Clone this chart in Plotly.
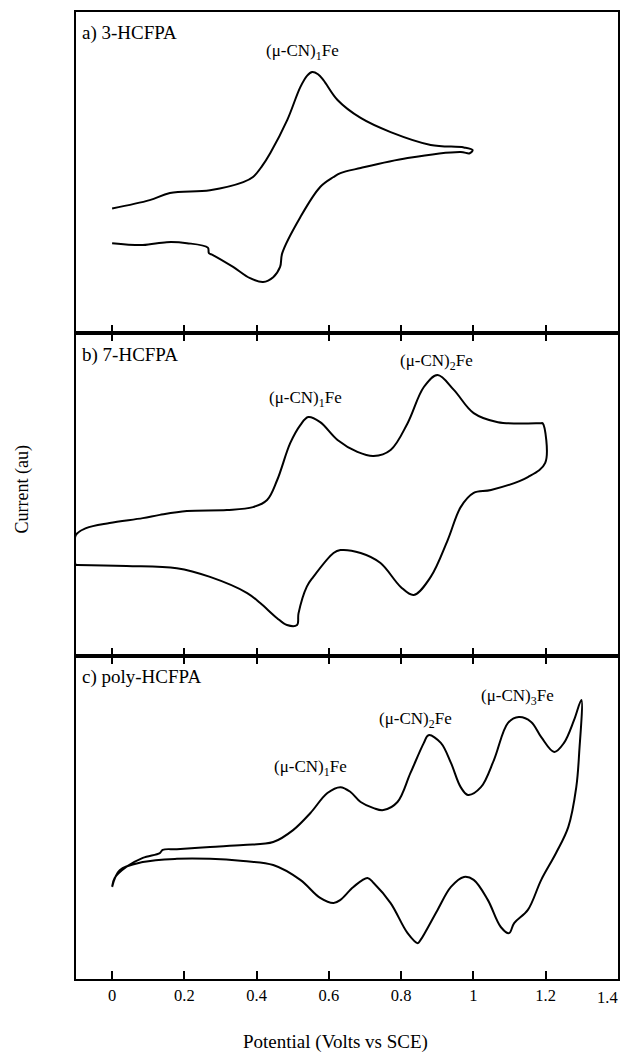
import plotly.graph_objects as go

# Potential (V vs SCE) and current (au) for each panel
a_v = [0.00, 0.104, 0.160, 0.271, 0.363, 0.390, 0.415, 0.438, 0.485, 0.521, 0.540, 0.554, 0.570, 0.585,
       0.624, 0.688, 0.771, 0.882, 0.974, 0.998, 0.990, 0.965, 0.818, 0.688, 0.632, 0.613, 0.576,
       0.521, 0.471, 0.465, 0.446, 0.418, 0.382, 0.335, 0.279, 0.268, 0.265, 0.207, 0.151, 0.085, 0.00]
a_i = [38.8, 41.4, 43.6, 44.5, 47.0, 48.6, 52.0, 56.1, 66.4, 76.6, 80.2, 81.3, 80.6, 78.8,
       72.6, 67.0, 62.6, 58.6, 57.8, 57.0, 56.0, 56.4, 54.5, 51.4, 49.8, 48.6, 45.5,
       36.1, 24.9, 20.6, 17.4, 15.9, 17.1, 20.6, 24.3, 24.9, 26.6, 28.0, 28.3, 27.4, 28.0]

b_v = [-0.1, -0.072, -0.007, 0.085, 0.132, 0.207, 0.318, 0.390, 0.429, 0.457, 0.493, 0.521, 0.543, 0.576,
       0.624, 0.679, 0.724, 0.771, 0.818, 0.863, 0.901, 0.946, 1.001, 1.068, 1.188, 1.192, 1.199,
       1.151, 1.049, 1.001, 0.965, 0.929, 0.882, 0.835, 0.799, 0.743, 0.688, 0.632, 0.613, 0.557,
       0.539, 0.516, 0.512, 0.484, 0.456, 0.410, 0.374, 0.271, 0.179, 0.040, -0.096, -0.1, -0.1]
b_i = [37.5, 39.6, 41.2, 42.7, 43.7, 44.9, 45.2, 46.1, 48.3, 54.5, 65.9, 71.5, 74.0, 72.4,
       66.9, 63.2, 61.9, 63.8, 72.1, 83.3, 87.0, 82.4, 75.2, 72.4, 72.1, 72.1, 59.8,
       55.4, 51.4, 50.5, 46.1, 35.9, 24.5, 18.9, 21.4, 28.8, 31.9, 32.8, 31.9, 24.5,
       21.5, 13.2, 9.6, 9.6, 11.8, 16.4, 19.5, 24.5, 27.2, 27.9, 28.2, 28.2, 37.5]

c_v = [0.0, 0.007, 0.039, 0.085, 0.132, 0.140, 0.179, 0.271, 0.363, 0.446, 0.501, 0.549, 0.596, 0.632,
       0.660, 0.688, 0.724, 0.751, 0.790, 0.826, 0.863, 0.876, 0.910, 0.938, 0.965, 0.985, 1.021,
       1.057, 1.096, 1.126, 1.160, 1.188, 1.224, 1.251, 1.279, 1.299,
       1.293, 1.285, 1.263, 1.229, 1.188, 1.151, 1.113, 1.099, 1.076, 1.040, 1.001, 0.974, 0.938,
       0.901, 0.854, 0.846, 0.818, 0.771, 0.724, 0.707, 0.668, 0.632, 0.613, 0.576, 0.521, 0.446,
       0.363, 0.271, 0.179, 0.085, 0.021, 0.0]
c_i = [28.6, 31.3, 34.7, 37.5, 39.0, 40.0, 40.2, 40.9, 41.5, 42.4, 46.1, 51.4, 57.6, 59.4,
       57.9, 54.8, 52.9, 52.3, 54.8, 63.8, 73.1, 75.5, 73.1, 66.9, 59.4, 57.0, 59.4,
       67.8, 79.3, 81.1, 79.6, 74.9, 70.3, 73.1, 80.2, 86.4,
       70.0, 59.4, 47.1, 39.0, 30.7, 21.4, 17.3, 14.2, 16.1, 24.5, 30.7, 31.6, 28.5,
       21.4, 12.1, 11.1, 14.2, 23.5, 29.7, 31.3, 28.5, 24.5, 23.5, 25.1, 30.7, 35.3,
       36.5, 37.2, 37.2, 36.2, 33.7, 28.5]

x_ticks = [0, 0.2, 0.4, 0.6, 0.8, 1.0, 1.2, 1.4]
x_tick_text = ["0", "0.2", "0.4", "0.6", "0.8", "1", "1.2", "1.4"]

panel_labels = ["a) 3-HCFPA", "b) 7-HCFPA", "c) poly-HCFPA"]
peak_labels = [
    (1, 0.527, 87.5, "(μ-CN)<sub>1</sub>Fe"),
    (2, 0.535, 79.5, "(μ-CN)<sub>1</sub>Fe"),
    (2, 0.898, 91.0, "(μ-CN)<sub>2</sub>Fe"),
    (3, 0.549, 65.3, "(μ-CN)<sub>1</sub>Fe"),
    (3, 0.840, 80.2, "(μ-CN)<sub>2</sub>Fe"),
    (3, 1.121, 87.3, "(μ-CN)<sub>3</sub>Fe"),
]

FONT = "Liberation Serif"
fig = go.Figure()
line = dict(color="black", width=2, shape="spline", smoothing=1.0)
fig.add_trace(go.Scatter(x=a_v, y=a_i, mode="lines", line=line, xaxis="x", yaxis="y"))
fig.add_trace(go.Scatter(x=b_v, y=b_i, mode="lines", line=line, xaxis="x2", yaxis="y2"))
fig.add_trace(go.Scatter(x=c_v, y=c_i, mode="lines", line=line, xaxis="x3", yaxis="y3"))

# last tick label is drawn as an annotation so it stays inside the page edge
shown_text = x_tick_text[:-1] + [""]

domains = [[0.668, 1.0], [0.334, 0.668], [0.0, 0.334]]
common_x = dict(range=[-0.1, 1.4005], tickvals=x_ticks, ticktext=shown_text, ticks="inside",
                ticklen=8, tickwidth=1.5, tickcolor="black", showline=True, linecolor="black",
                linewidth=1.5, showgrid=False, zeroline=False, automargin=False)
common_y = dict(range=[0, 100], showticklabels=False, ticks="", showline=True, mirror=True,
                linecolor="black", linewidth=1.5, showgrid=False, zeroline=False, automargin=False)

layout = dict(
    width=620, height=1046,
    margin=dict(l=68, r=10, t=4, b=75),
    plot_bgcolor="white", paper_bgcolor="white",
    showlegend=False,
    font=dict(family=FONT, size=17, color="black"),
)
for k in range(3):
    sx = "" if k == 0 else str(k + 1)
    xa = dict(common_x)
    xa["anchor"] = "y" + sx
    if k > 0:
        xa["matches"] = "x"
    xa["mirror"] = True if k == 0 else "ticks"
    xa["showticklabels"] = (k == 2)
    xa["tickfont"] = dict(family=FONT, size=16.5, color="black")
    ya = dict(common_y)
    ya["domain"] = domains[k]
    ya["anchor"] = "x" + sx
    layout["xaxis" + sx] = xa
    layout["yaxis" + sx] = ya

annotations = []
label_y = [0.978, 0.645, 0.312]
for lbl, yy in zip(panel_labels, label_y):
    annotations.append(dict(text=lbl, xref="paper", yref="paper", x=0.008, y=yy,
                            xanchor="left", yanchor="middle", showarrow=False,
                            font=dict(family=FONT, size=19, color="black")))
for row, xv, yv, txt in peak_labels:
    sx = "" if row == 1 else str(row)
    annotations.append(dict(text=txt, xref="x" + sx, yref="y" + sx, x=xv, y=yv,
                            xanchor="center", yanchor="middle", showarrow=False,
                            font=dict(family=FONT, size=17, color="black")))
annotations.append(dict(text=x_tick_text[-1], xref="x3", yref="paper", x=x_ticks[-1], y=-0.0196,
                        xanchor="right", yanchor="middle", xshift=2, showarrow=False,
                        font=dict(family=FONT, size=16.5, color="black")))
annotations.append(dict(text="Potential (Volts vs SCE)", xref="paper", yref="paper",
                        x=0.478, y=-0.065, xanchor="center", yanchor="middle", showarrow=False,
                        font=dict(family=FONT, size=19, color="black")))
annotations.append(dict(text="Current (au)", xref="paper", yref="paper", x=-0.098, y=0.506,
                        xanchor="center", yanchor="middle", textangle=-90, showarrow=False,
                        font=dict(family=FONT, size=18, color="black")))
layout["annotations"] = annotations

fig.update_layout(**layout)
fig.write_html("out.html")
